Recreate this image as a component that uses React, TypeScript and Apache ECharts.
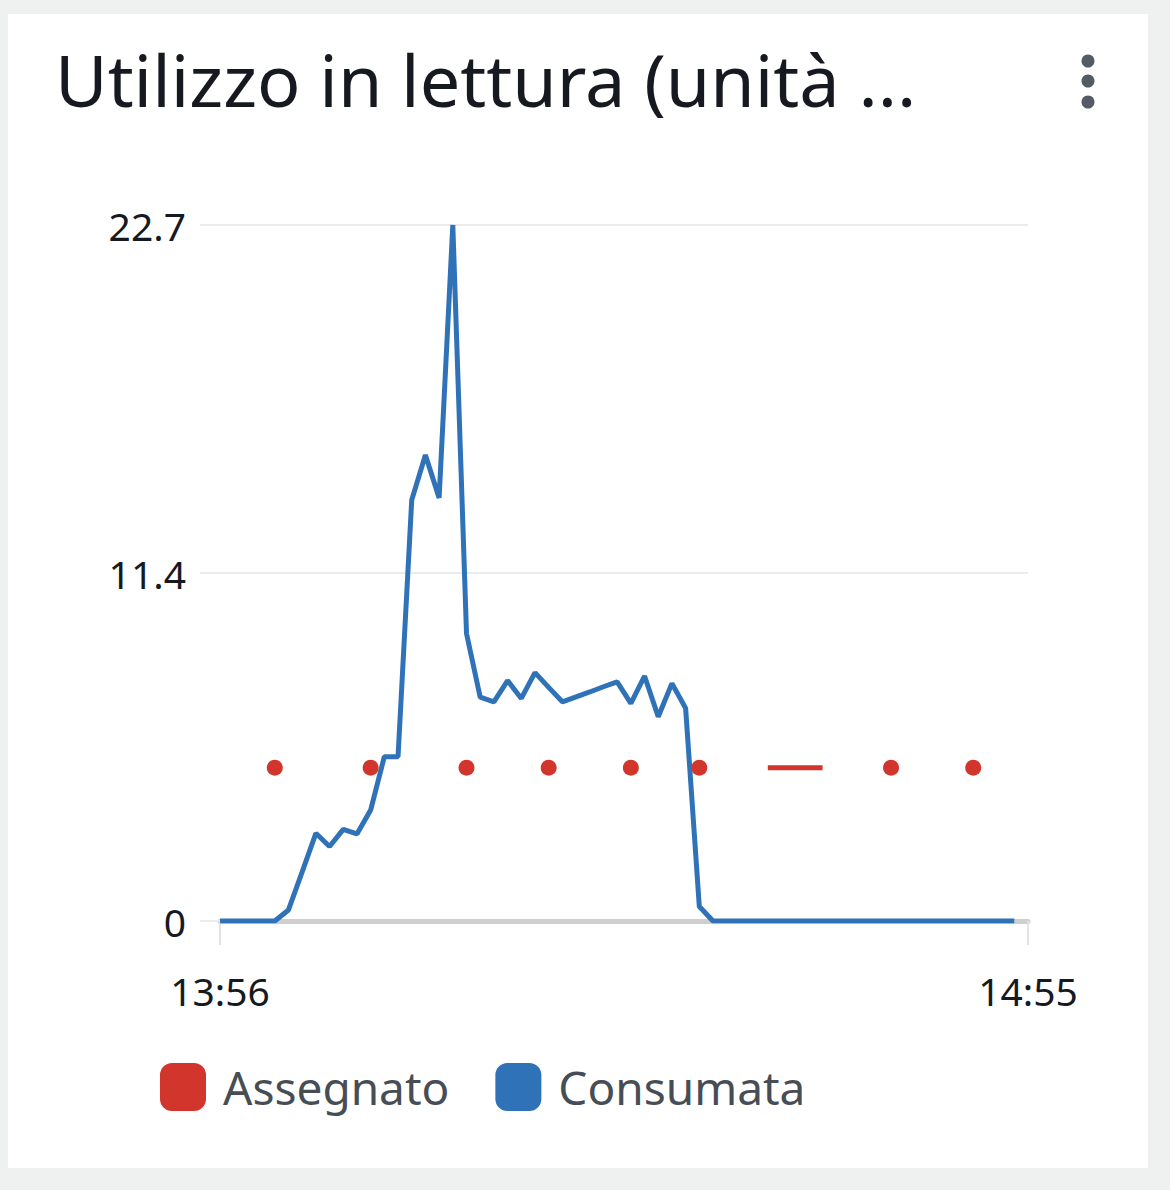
import React, { useEffect, useRef } from "react";
import * as echarts from "echarts";

const titleText = "Utilizzo in lettura (unità ...";

const timeCategories = [
  "13:56", "13:57", "13:58", "13:59",
  "14:00", "14:01", "14:02", "14:03", "14:04", "14:05", "14:06", "14:07", "14:08", "14:09",
  "14:10", "14:11", "14:12", "14:13", "14:14", "14:15", "14:16", "14:17", "14:18", "14:19",
  "14:20", "14:21", "14:22", "14:23", "14:24", "14:25", "14:26", "14:27", "14:28", "14:29",
  "14:30", "14:31", "14:32", "14:33", "14:34", "14:35", "14:36", "14:37", "14:38", "14:39",
  "14:40", "14:41", "14:42", "14:43", "14:44", "14:45", "14:46", "14:47", "14:48", "14:49",
  "14:50", "14:51", "14:52", "14:53", "14:54", "14:55",
];

const consumedValues = [
  0, 0, 0, 0, 0, 0.36, 1.6, 2.86, 2.43, 2.99,
  2.84, 3.62, 5.36, 5.36, 13.73, 15.2, 13.8, 22.7, 9.38, 7.3,
  7.15, 7.84, 7.26, 8.1, 7.62, 7.15, 7.31, 7.47, 7.64, 7.8,
  7.1, 7.99, 6.66, 7.75, 6.94, 0.47, 0, 0, 0, 0,
  0, 0, 0, 0, 0, 0, 0, 0, 0, 0,
  0, 0, 0, 0, 0, 0, 0, 0, 0,
];

const assignedValues = [
  null, null, null, null, 5, null, null, null, null, null,
  null, 5, null, null, null, null, null, null, 5, null,
  null, null, null, null, 5, null, null, null, null, null,
  5, null, null, null, null, 5, null, null, null, null,
  5, 5, 5, 5, 5, null, null, null, null, 5,
  null, null, null, null, null, 5, null, null, null,
];

const yTickLabels = ["0", "11.4", "22.7"];
const yMax = 22.7;

const seriesNames = ["Assegnato", "Consumata"];
const RED = "#d1352c";
const BLUE = "#2f72b8";
const FONT = "'Noto Sans', 'Open Sans', sans-serif";

const legendIcon =
  "path://M12,0 H34 A12,12 0 0 1 46,12 V36 A12,12 0 0 1 34,48 H12 A12,12 0 0 1 0,36 V12 A12,12 0 0 1 12,0 Z";

export default function App() {
  const ref = useRef<HTMLDivElement>(null);

  useEffect(() => {
    if (!ref.current) return;
    const chart = echarts.init(ref.current, null, { renderer: "svg" });
    const lastIdx = timeCategories.length - 1;
    const isIsolated = (i: number) =>
      assignedValues[i] != null &&
      (i === 0 || assignedValues[i - 1] == null) &&
      (i === assignedValues.length - 1 || assignedValues[i + 1] == null);

    chart.setOption({
      animation: false,
      textStyle: { fontFamily: FONT },
      title: {
        text: titleText,
        left: 50,
        top: 38,
        textStyle: {
          fontFamily: FONT,
          fontSize: 72,
          fontWeight: "normal",
          color: "#16191f",
        },
      },
      graphic: [
        { type: "circle", shape: { cx: 1088, cy: 61, r: 6.5 }, style: { fill: "#545b64" } },
        { type: "circle", shape: { cx: 1088, cy: 81, r: 6.5 }, style: { fill: "#545b64" } },
        { type: "circle", shape: { cx: 1088, cy: 102, r: 6.5 }, style: { fill: "#545b64" } },
      ],
      legend: {
        left: 160,
        top: 1063,
        padding: 0,
        itemWidth: 46,
        itemHeight: 48,
        itemGap: 46,
        data: seriesNames.map((n) => ({ name: n, icon: legendIcon })),
        textStyle: {
          fontFamily: FONT,
          fontSize: 46,
          color: "#474d55",
          padding: [0, 0, 0, 12],
        },
      },
      grid: { left: 220, right: 142, top: 225, bottom: 269 },
      xAxis: {
        type: "category",
        data: timeCategories,
        boundaryGap: false,
        axisLine: { show: true, lineStyle: { color: "#cfcfcf", width: 5 } },
        axisTick: {
          show: true,
          length: 24,
          interval: (i: number) => i === 0 || i === lastIdx,
          lineStyle: { color: "#e3e3e3", width: 2 },
        },
        axisLabel: {
          interval: (i: number) => i === 0 || i === lastIdx,
          fontFamily: FONT,
          fontSize: 39,
          color: "#16191f",
          margin: 50,
          showMinLabel: true,
          showMaxLabel: true,
        },
        splitLine: { show: false },
      },
      yAxis: {
        type: "value",
        min: 0,
        max: yMax,
        interval: yMax / 2,
        axisLine: { show: false },
        axisTick: { show: true, length: 20, lineStyle: { color: "#e9ebed", width: 2 } },
        axisLabel: {
          fontFamily: FONT,
          fontSize: 39,
          color: "#16191f",
          margin: 34,
          formatter: (_v: number, idx: number) => yTickLabels[idx],
        },
        splitLine: { show: true, lineStyle: { color: "#e9ebed", width: 2 } },
      },
      series: [
        {
          name: seriesNames[0],
          type: "line",
          data: assignedValues,
          color: RED,
          connectNulls: false,
          showSymbol: true,
          showAllSymbol: true,
          symbol: "circle",
          symbolSize: (_v: any, p: any) => (isIsolated(p.dataIndex) ? 16 : 0),
          itemStyle: { color: RED, borderWidth: 0 },
          lineStyle: { color: RED, width: 5 },
          z: 3,
        },
        {
          name: seriesNames[1],
          type: "line",
          data: consumedValues,
          color: BLUE,
          showSymbol: false,
          symbol: "none",
          lineStyle: { color: BLUE, width: 5 },
          z: 2,
        },
      ],
    });
    return () => chart.dispose();
  }, []);

  return (
    <div
      style={{
        position: "absolute",
        left: 0,
        top: 0,
        width: 1170,
        height: 1190,
        background: "#eff0f0",
      }}
    >
      <div
        style={{
          position: "absolute",
          left: 8,
          top: 14,
          width: 1140,
          height: 1154,
          background: "#ffffff",
        }}
      />
      <div
        ref={ref}
        style={{ position: "absolute", left: 0, top: 0, width: 1170, height: 1190 }}
      />
    </div>
  );
}
